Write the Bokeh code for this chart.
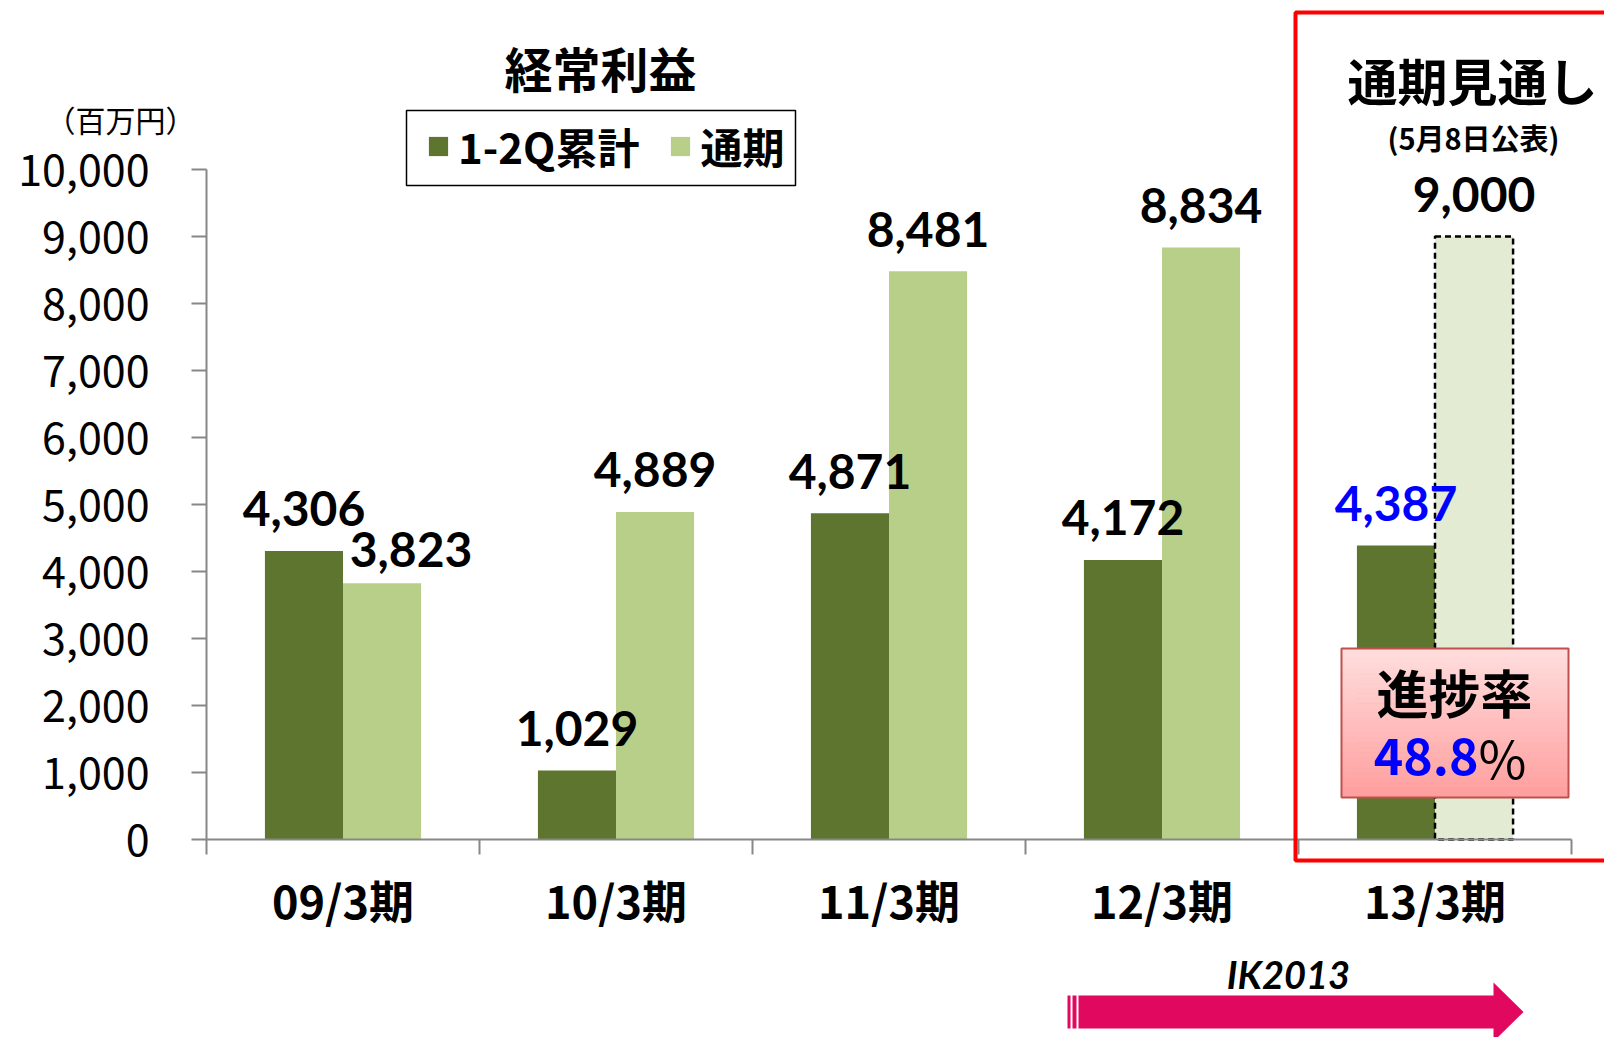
from bokeh.plotting import figure
from bokeh.models import (ColumnDataSource, FixedTicker, NumeralTickFormatter, Legend, LegendItem,
                          BoxAnnotation, PolyAnnotation, Label, Range1d)
from bokeh.core.properties import value
from bokeh.embed import file_html
from bokeh.resources import INLINE

# ---------------- data ----------------
categories = ["09/3期", "10/3期", "11/3期", "12/3期", "13/3期"]
h1_values = [4306, 1029, 4871, 4172, 4387]          # 1-2Q累計
fy_values = [3823, 4889, 8481, 8834, 9000]          # 通期
fy_forecast = [False, False, False, False, True]    # 通期見通し (forecast)
h1_highlight = [False, False, False, False, True]
y_ticks = list(range(0, 10001, 1000))
series_names = ["1-2Q累計", "通期"]
progress_rate = "48.8"

# ---------------- layout helpers ----------------
W, H = 1604, 1037
FL, FB = 206, 839          # position of the axes origin in px
UX = 273.0                 # px per category
UY = 670.0 / 10000         # px per unit
BW = 0.286                 # bar width (category units)

def dx(px):
    return (px - FL) / UX

def dy(py):
    return (FB - py) / UY

DARK = "#5E7530"
LIGHT = "#B8CF8A"
FORECAST_FILL = "#E4EBD3"

p = figure(width=W, height=H, x_range=Range1d(dx(0), dx(W)), y_range=Range1d(dy(H), dy(0)),
           output_backend="svg", toolbar_location=None,
           min_border_left=0, min_border_right=0, min_border_top=0, min_border_bottom=0)
p.outline_line_color = None
p.xgrid.visible = False
p.ygrid.visible = False
p.background_fill_color = "white"

n = len(categories)
centers = [i + 0.5 for i in range(n)]

# dark bars
src_h1 = ColumnDataSource(dict(x=[c - BW / 2 for c in centers], top=h1_values))
r_h1 = p.vbar(x="x", top="top", bottom=0, width=BW, source=src_h1, fill_color=DARK, line_color=None)

# light bars (actual / forecast)
act_idx = [i for i in range(n) if not fy_forecast[i]]
fc_idx = [i for i in range(n) if fy_forecast[i]]
src_fy = ColumnDataSource(dict(x=[centers[i] + BW / 2 for i in act_idx], top=[fy_values[i] for i in act_idx]))
r_fy = p.vbar(x="x", top="top", bottom=0, width=BW, source=src_fy, fill_color=LIGHT, line_color=None)
src_fc = ColumnDataSource(dict(x=[centers[i] + BW / 2 for i in fc_idx], top=[fy_values[i] for i in fc_idx]))
p.vbar(x="x", top="top", bottom=0, width=BW, source=src_fc, fill_color=FORECAST_FILL,
       line_color="black", line_width=2.5, line_dash="6 4")

# value labels
lab_x, lab_y, lab_t, lab_c, lab_xo, lab_yo = [], [], [], [], [], []
for i in range(n):
    lab_x.append(centers[i] - BW / 2); lab_y.append(h1_values[i]); lab_t.append(f"{h1_values[i]:,}")
    lab_c.append("#0000FF" if h1_highlight[i] else "black"); lab_xo.append(0); lab_yo.append(-42)
for i in range(n):
    lab_x.append(centers[i] + BW / 2); lab_y.append(fy_values[i]); lab_t.append(f"{fy_values[i]:,}")
    lab_c.append("black")
    # nudge the label that would collide with its neighbour
    if fy_values[i] < h1_values[i]:
        lab_xo.append(29); lab_yo.append(-34)
    else:
        lab_xo.append(0); lab_yo.append(-42)
src_lab = ColumnDataSource(dict(x=lab_x, y=lab_y, text=lab_t, color=lab_c, xo=lab_xo, yo=lab_yo))
p.text(x="x", y="y", text="text", source=src_lab, text_color="color", x_offset="xo", y_offset="yo",
       text_font=value("Lato"), text_font_style="bold", text_font_size="48px",
       text_align="center", text_baseline="alphabetic")

# axes (placed at the data origin)
xa = p.xaxis[0]
xa.fixed_location = 0
xa.ticker = FixedTicker(ticks=centers, minor_ticks=list(range(n + 1)))
xa.major_label_overrides = {c: categories[i] for i, c in enumerate(centers)}
xa.bounds = (0, n)
xa.axis_line_color = "#878787"; xa.axis_line_width = 2
xa.major_tick_line_color = None; xa.major_tick_out = 0; xa.major_tick_in = 0
xa.minor_tick_line_color = "#878787"; xa.minor_tick_line_width = 2
xa.minor_tick_out = 15; xa.minor_tick_in = 0
xa.major_label_standoff = 12
xa.major_label_text_font = "Noto Sans CJK JP"
xa.major_label_text_font_size = "45px"
xa.major_label_text_font_style = "bold"
xa.major_label_text_color = "black"

ya = p.yaxis[0]
ya.fixed_location = 0
ya.ticker = FixedTicker(ticks=y_ticks, minor_ticks=[])
ya.formatter = NumeralTickFormatter(format="0,0")
ya.bounds = (0, 10000)
ya.axis_line_color = "#878787"; ya.axis_line_width = 2
ya.major_tick_line_color = "#878787"; ya.major_tick_line_width = 2
ya.major_tick_out = 15; ya.major_tick_in = 0
ya.minor_tick_line_color = None
ya.major_label_standoff = 42
ya.major_label_text_font = "Noto Sans CJK JP"
ya.major_label_text_font_size = "43px"
ya.major_label_text_color = "black"

# legend (frame drawn separately)
p.add_layout(BoxAnnotation(left=dx(406), right=dx(795), top=dy(110), bottom=dy(185),
                           fill_color="white", fill_alpha=1, line_color="black", line_alpha=1,
                           line_width=1.5))
legend = Legend(items=[LegendItem(label=series_names[0], renderers=[r_h1], index=0),
                       LegendItem(label=series_names[1], renderers=[r_fy], index=0)],
                orientation="horizontal", location=(426, H - 176),
                glyph_width=24, glyph_height=24, label_standoff=8, spacing=29, padding=0, margin=0,
                label_text_font="Noto Sans CJK JP", label_text_font_size="42px",
                label_text_font_style="bold", label_text_color="black",
                border_line_color=None, background_fill_alpha=0)
p.add_layout(legend)

# titles / notes
def lab(x, y, text, size, style="bold", font="Noto Sans CJK JP", color="black", align="center"):
    p.add_layout(Label(x=dx(x), y=dy(y), text=text, text_font=font, text_font_size=f"{size}px",
                       text_font_style=style, text_color=color, text_align=align,
                       text_baseline="middle"))

lab(600, 66, "経常利益", 48)
lab(120, 118, "（百万円）", 30, style="normal")
lab(1472, 78, "通期見通し", 50)
lab(1473, 136, "(5月8日公表)", 29)

# red highlight frame
p.add_layout(BoxAnnotation(left=dx(1295), right=dx(1700), top=dy(12), bottom=dy(860),
                           fill_color=None, fill_alpha=0, line_color="#FF0000", line_alpha=1,
                           line_width=4))

# progress box with vertical gradient
x0, x1, y0, y1 = 1341, 1568, 648, 797
nb = 30
c_top, c_bot = (0xFF, 0xDE, 0xDE), (0xFF, 0x9E, 0x9E)
q_l, q_r, q_t, q_b, q_c = [], [], [], [], []
for k in range(nb):
    t = (k + 0.5) / nb
    col = tuple(int(round(a + (b - a) * t)) for a, b in zip(c_top, c_bot))
    q_l.append(dx(x0)); q_r.append(dx(x1))
    q_t.append(dy(y0 + (y1 - y0) * k / nb)); q_b.append(dy(y0 + (y1 - y0) * (k + 1) / nb))
    q_c.append("#%02X%02X%02X" % col)
p.quad(left=q_l, right=q_r, top=q_t, bottom=q_b, fill_color=q_c, line_color=q_c, line_width=1)
p.quad(left=[dx(x0)], right=[dx(x1)], top=[dy(y0)], bottom=[dy(y1)], fill_color=None,
       line_color="#C0504D", line_width=2)
lab(1454, 691, "進捗率", 52)
lab(1478, 756, progress_rate, 50, color="#0000FF", align="right")
lab(1478, 756, "%", 52, style="normal", align="left")

# IK2013 arrow
ARROW = "#E0095F"
lab(1288, 973, "IK2013", 38, style="bold italic", font="Lato")
p.add_layout(PolyAnnotation(xs=[dx(v) for v in [1078, 1493, 1493, 1523, 1493, 1493, 1078]],
                            ys=[dy(v) for v in [995, 995, 982, 1011.5, 1041, 1028, 1028]],
                            fill_color=ARROW, fill_alpha=1, line_color=None))
for a, b in [(1067, 1070), (1072, 1076)]:
    p.add_layout(PolyAnnotation(xs=[dx(a), dx(b), dx(b), dx(a)], ys=[dy(995), dy(995), dy(1028), dy(1028)],
                                fill_color=ARROW, fill_alpha=1, line_color=None))

open("out.html", "w").write(file_html(p, INLINE))
